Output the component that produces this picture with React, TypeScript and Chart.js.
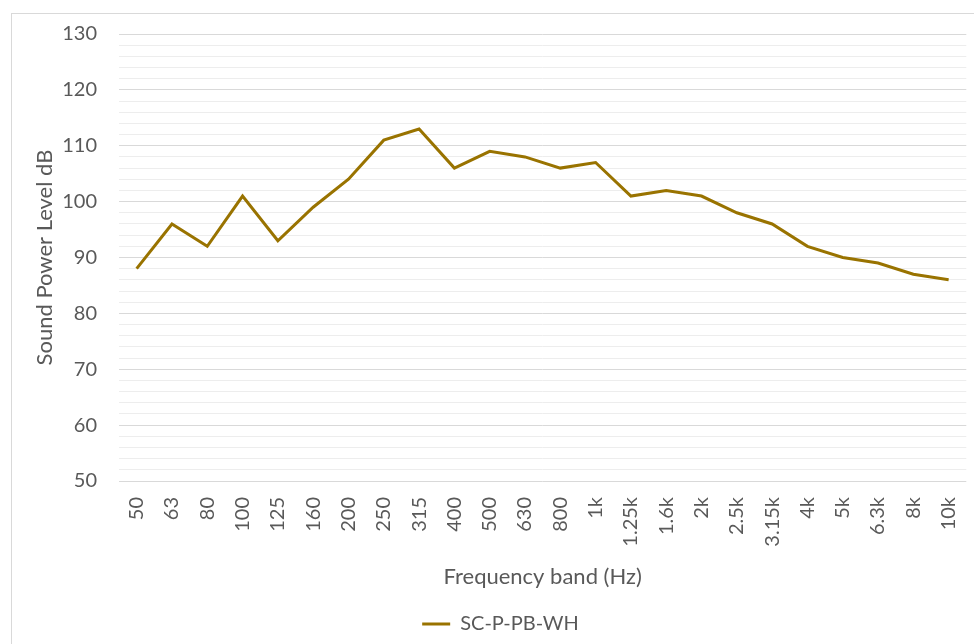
import React, { useEffect, useRef } from 'react';
import { Chart, registerables } from 'chart.js';

Chart.register(...registerables);

const categories = ['50', '63', '80', '100', '125', '160', '200', '250', '315', '400', '500', '630', '800', '1k', '1.25k', '1.6k', '2k', '2.5k', '3.15k', '4k', '5k', '6.3k', '8k', '10k'];
const soundPowerLevel = [88, 96, 92, 101, 93, 99, 104, 111, 113, 106, 109, 108, 106, 107, 101, 102, 101, 98, 96, 92, 90, 89, 87, 86];
const seriesName = 'SC-P-PB-WH';
const yMin = 50;
const yMax = 130;
const yMinorStep = 2;
const yMajorStep = 10;

const FONT = 'Lato, "Open Sans", sans-serif';
const TEXT = '#595959';
const LINE = '#997300';

export default function App() {
  const ref = useRef<HTMLCanvasElement>(null);
  useEffect(() => {
    if (!ref.current) return;
    const chart = new Chart(ref.current, {
      type: 'line',
      data: {
        labels: categories,
        datasets: [
          {
            label: seriesName,
            data: soundPowerLevel,
            borderColor: LINE,
            backgroundColor: LINE,
            borderWidth: 3,
            pointRadius: 0,
            pointHoverRadius: 0,
            pointStyle: 'line',
            tension: 0,
          },
        ],
      },
      options: {
        animation: false,
        responsive: false,
        layout: { padding: { top: 21, right: 17, left: 18, bottom: 9 } },
        plugins: {
          tooltip: { enabled: false },
          legend: {
            position: 'bottom',
            labels: {
              usePointStyle: true,
              pointStyleWidth: 28,
              padding: 10,
              color: TEXT,
              font: { family: FONT, size: 20 },
            },
          },
        },
        scales: {
          x: {
            offset: true,
            grid: { display: false, drawTicks: false },
            border: { display: false },
            ticks: {
              autoSkip: false,
              maxRotation: 90,
              minRotation: 90,
              padding: 16,
              color: TEXT,
              font: { family: FONT, size: 20 },
            },
            title: {
              display: true,
              text: 'Frequency band (Hz)',
              color: TEXT,
              font: { family: FONT, size: 22 },
              padding: { top: 0, bottom: 14 },
            },
            afterFit: (axis: any) => {
              axis.height = 123;
            },
          },
          y: {
            min: yMin,
            max: yMax,
            grid: {
              drawTicks: false,
              color: (ctx: any) => (ctx.tick && ctx.tick.value % yMajorStep === 0 ? '#d9d9d9' : '#ededed'),
              lineWidth: 1,
            },
            border: { display: false },
            ticks: {
              stepSize: yMinorStep,
              autoSkip: false,
              padding: 22,
              color: TEXT,
              font: { family: FONT, size: 20 },
              callback: (v: any) => (Number(v) % yMajorStep === 0 ? String(v) : ''),
            },
            title: {
              display: true,
              text: 'Sound Power Level dB',
              color: TEXT,
              font: { family: FONT, size: 22 },
              padding: { top: 3, bottom: 0 },
            },
            afterFit: (axis: any) => {
              axis.width = 90;
              axis.paddingTop = 0;
              axis.paddingBottom = 0;
            },
          },
        },
      },
    });
    return () => chart.destroy();
  }, []);

  return (
    <div style={{ position: 'fixed', left: 0, top: 0, width: 974, height: 644, overflow: 'hidden', background: '#fff' }}>
      <div
        style={{
          position: 'absolute',
          left: 11,
          top: 13,
          width: 978,
          height: 640,
          border: '1px solid #d9d9d9',
          boxSizing: 'border-box',
        }}
      />
      <canvas ref={ref} width={978} height={640} style={{ position: 'absolute', left: 11, top: 13, display: 'block' }} />
    </div>
  );
}
